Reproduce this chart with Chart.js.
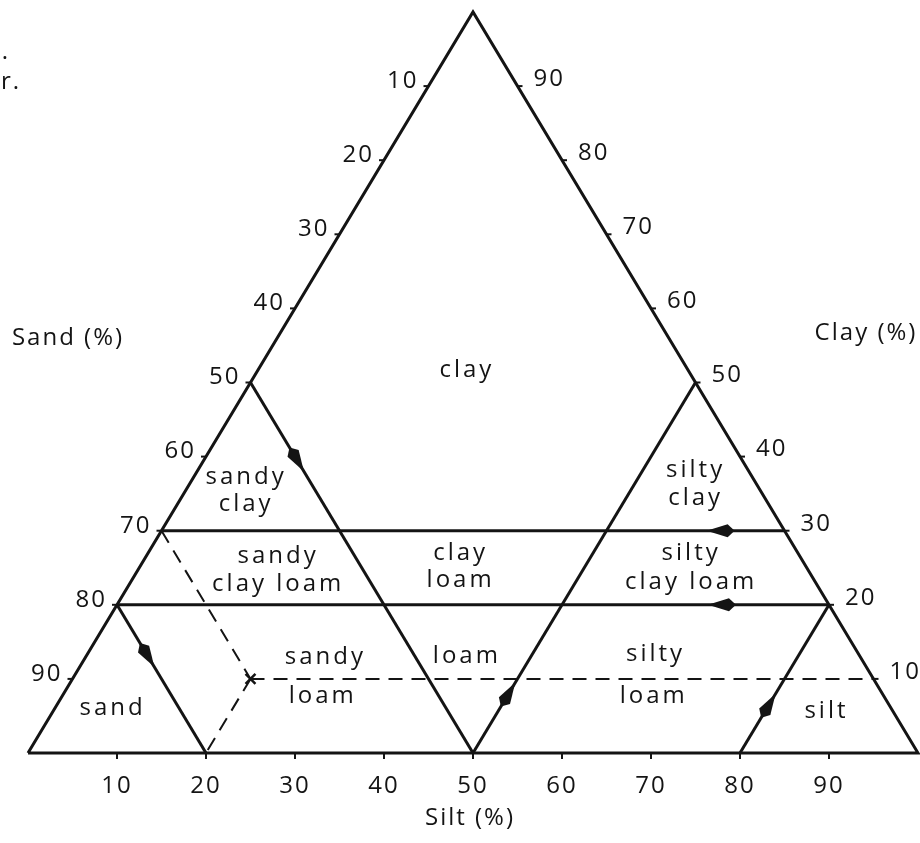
<!DOCTYPE html>
<html>
<head>
<meta charset="utf-8">
<script src="https://cdn.jsdelivr.net/npm/chart.js@4"></script>
<style>
  html, body { margin: 0; padding: 0; background: #fff; }
  canvas { display: block; }
</style>
</head>
<body>
<canvas id="textureChart" width="920" height="843"></canvas>
<script>

// ======================
// DATA (silt %, clay %)
// ======================

const tickValues = [10, 20, 30, 40, 50, 60, 70, 80, 90];

const outline = [[0, 0], [100, 0], [0, 100], [0, 0]];

const solidLines = [
  [[0, 50], [50, 0]],   // sand 50
  [[0, 20], [20, 0]],   // sand 80
  [[50, 0], [50, 50]],  // silt 50
  [[80, 0], [80, 20]],  // silt 80
  [[70, 30], [0, 30]],  // clay 30
  [[80, 20], [0, 20]]   // clay 20
];

// where the arrow tip sits along each solid line (0 = start, 1 = end)
const arrowFractions = [0.24, 0.42, 0.19, 0.40, 0.125, 0.17];

const dashedLines = [
  [[20, 10], [90, 10]],
  [[0, 30], [20, 10]],
  [[20, 10], [20, 0]]
];

const examplePoint = [20, 10];

const regionTexts = [
  "clay",
  "sandy", "clay",
  "sandy", "clay loam",
  "clay", "loam",
  "silty", "clay",
  "silty", "clay loam",
  "sandy", "loam",
  "loam",
  "silty", "loam",
  "sand",
  "silt"
];

// label centres in plot units (x = silt + clay / 2, y = clay)
const regionX = [49.2, 24.4, 24.4, 28.0, 28.0, 48.5, 48.5, 74.9, 74.9, 74.4, 74.4, 33.3, 33.0, 49.2, 70.4, 70.2, 9.4, 89.6];
const regionY = [51.7, 37.2, 33.6, 26.5, 22.8, 27.0, 23.3, 38.2, 34.4, 27.0, 23.0, 12.9, 7.7, 13.1, 13.3, 7.7, 6.1, 5.7];


// ======================
// HELPERS
// ======================

const ink = "#141414";

function toXY(pair) {
  return { x: pair[0] + pair[1] / 2, y: pair[1] };
}

function lineDataset(points, dashed, width) {
  return {
    data: points.map(toXY),
    showLine: true,
    borderColor: ink,
    borderWidth: width,
    borderDash: dashed ? [14, 9] : [],
    pointRadius: 0,
    clip: false
  };
}


// ======================
// LABELS / TICKS / ARROWS
// ======================

const trianglePlugin = {
  id: "triangleDecor",
  afterDatasetsDraw(chart) {
    const ctx = chart.ctx;
    const xs = chart.scales.x;
    const ys = chart.scales.y;

    function pix(silt, clay) {
      return {
        x: xs.getPixelForValue(silt + clay / 2),
        y: ys.getPixelForValue(clay)
      };
    }

    ctx.save();
    ctx.fillStyle = ink;
    ctx.strokeStyle = ink;
    ctx.lineWidth = 2;

    // arrows
    solidLines.forEach((line, i) => {
      const a = pix(line[0][0], line[0][1]);
      const b = pix(line[1][0], line[1][1]);
      const f = arrowFractions[i];
      const tip = { x: a.x + (b.x - a.x) * f, y: a.y + (b.y - a.y) * f };
      const ang = Math.atan2(b.y - a.y, b.x - a.x);
      ctx.save();
      ctx.translate(tip.x, tip.y);
      ctx.rotate(ang);
      ctx.beginPath();
      ctx.moveTo(0, 0);
      ctx.lineTo(-21, -6.5);
      ctx.lineTo(-28, 0);
      ctx.lineTo(-21, 6.5);
      ctx.closePath();
      ctx.fill();
      ctx.restore();
    });

    ctx.font = '24px "Open Sans"';
    ctx.letterSpacing = "2px";

    // bottom: silt
    ctx.textAlign = "center";
    ctx.textBaseline = "middle";
    tickValues.forEach(v => {
      const p = pix(v, 0);
      ctx.beginPath();
      ctx.moveTo(p.x, p.y);
      ctx.lineTo(p.x, p.y + 6);
      ctx.stroke();
      ctx.fillText(String(v), p.x, p.y + 33);
    });

    // left: sand
    ctx.textAlign = "right";
    tickValues.forEach(v => {
      const p = pix(0, 100 - v);
      ctx.beginPath();
      ctx.moveTo(p.x, p.y);
      ctx.lineTo(p.x - 5, p.y);
      ctx.stroke();
      ctx.fillText(String(v), p.x - 10, p.y - 5);
    });

    // right: clay
    ctx.textAlign = "left";
    tickValues.forEach(v => {
      const p = pix(100 - v, v);
      ctx.beginPath();
      ctx.moveTo(p.x, p.y);
      ctx.lineTo(p.x + 5, p.y);
      ctx.stroke();
      ctx.fillText(String(v), p.x + 16, p.y - 7);
    });

    // region names
    ctx.textAlign = "center";
    ctx.letterSpacing = "3px";
    regionTexts.forEach((t, i) => {
      ctx.fillText(t, xs.getPixelForValue(regionX[i]) + 1, ys.getPixelForValue(regionY[i]));
    });

    // axis titles
    ctx.letterSpacing = "2px";
    ctx.fillText("Sand (%)", 68, 338);
    ctx.fillText("Clay (%)", 866, 333);
    ctx.fillText("Silt (%)", 470, 818);

    // clipped caption fragments at top-left
    ctx.textAlign = "left";
    ctx.fillText("r.", -10, 52);
    ctx.fillText("r.", 1, 82);

    ctx.restore();
  }
};


// ======================
// CHART
// ======================

const datasets = [lineDataset(outline, false, 3)];

solidLines.forEach(line => {
  datasets.push(lineDataset(line, false, 3));
});

dashedLines.forEach(line => {
  datasets.push(lineDataset(line, true, 2));
});

datasets.push({
  data: [toXY(examplePoint)],
  pointStyle: "crossRot",
  pointRadius: 7,
  pointBorderWidth: 2.5,
  borderColor: ink,
  clip: false
});

new Chart(document.getElementById("textureChart"), {
  type: "scatter",
  data: { datasets },
  options: {
    responsive: false,
    animation: false,
    devicePixelRatio: 1,
    layout: {
      autoPadding: false,
      padding: { left: 28, right: 2, top: 12, bottom: 90 }
    },
    scales: {
      x: { type: "linear", min: 0, max: 100, display: false },
      y: { type: "linear", min: 0, max: 100, display: false }
    },
    plugins: {
      legend: { display: false },
      tooltip: { enabled: false }
    }
  },
  plugins: [trianglePlugin]
});

</script>
</body>
</html>
